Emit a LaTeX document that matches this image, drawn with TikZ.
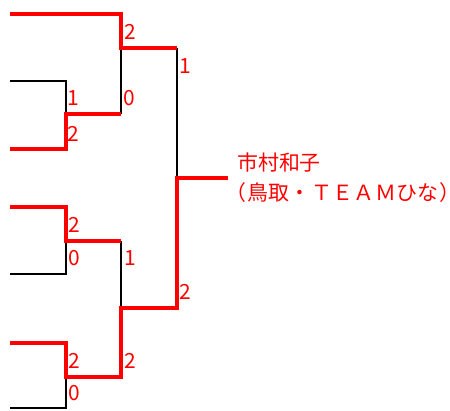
\documentclass[tikz,border=0pt]{standalone}
\usepackage{fontspec}
\newfontfamily\cjk{Noto Sans CJK JP}
\newfontfamily\cjkwide[LetterSpace=2]{Noto Sans CJK JP}
\usetikzlibrary{positioning}
\begin{document}
\begin{tikzpicture}[x=1bp, y=-1bp,
        win/.style={draw=red, line width=4bp},
        lose/.style={draw=black, line width=2.5bp},
        score/.style={text=red, inner sep=0pt, font=\cjk\fontsize{21}{21}\selectfont},
        champion/.style={text=red, align=left, inner xsep=9bp, inner ysep=0pt, font=\cjk\fontsize{21}{30}\selectfont}]
        \useasboundingbox (0,0) rectangle (450,410);

        \coordinate (p1) at (10, 14);
        \coordinate (p2) at (10, 81);
        \coordinate (p3) at (10, 149);
        \coordinate (p4) at (10, 207);
        \coordinate (p5) at (10, 274);
        \coordinate (p6) at (10, 343);
        \coordinate (p7) at (10, 408);

        \coordinate (m1) at (66, 114);
        \coordinate (m2) at (121, 48);
        \coordinate (m3) at (66, 241);
        \coordinate (m4) at (177, 178);
        \coordinate (m5) at (66, 377);
        \coordinate (m6) at (121, 308);

        \node[style=champion, right=51bp of m4] (champ) {市村和子\\\kern-0.55em{\cjkwide（鳥取・ＴＥＡＭひな）}\kern-0.6em};

        \draw[style=lose] (p2) -| (m1);
        \draw[style=lose] (p5) -| (m3);
        \draw[style=lose] (p7) -| (m5);
        \draw[style=lose] (m1 -| m2) -- (m2);
        \draw[style=lose] (m3 -| m6) -- (m6);
        \draw[style=lose] (m2 -| m4) -- (m4);

        \draw[style=win] (p1) -| (m2) -- (m2 -| m4);
        \draw[style=win] (p3) -| (m1) -- (m1 -| m2);
        \draw[style=win] (p4) -| (m3) -- (m3 -| m6);
        \draw[style=win] (p6) -| (m5) -- (m5 -| m6) -- (m6) -| (m4) -- (champ.west);

        \node[style=score] (s1) at (130, 32) {2};
        \node[style=score] (s2) at (129, 98) {0};
        \node[style=score] (s3) at (73, 98) {1};
        \node[style=score] (s4) at (73, 134) {2};
        \node[style=score] (s5) at (185, 66) {1};
        \node[style=score] (s6) at (185, 292) {2};
        \node[style=score] (s7) at (74, 225) {2};
        \node[style=score] (s8) at (74, 258) {0};
        \node[style=score] (s9) at (130, 258) {1};
        \node[style=score] (s10) at (74, 361) {2};
        \node[style=score] (s11) at (130, 361) {2};
        \node[style=score] (s12) at (74, 393) {0};
    \end{tikzpicture}
\end{document}
